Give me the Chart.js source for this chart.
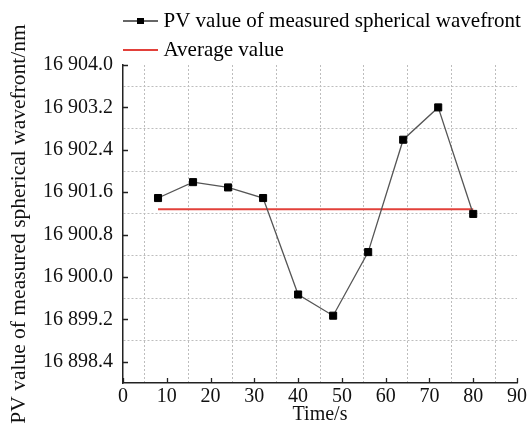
<!DOCTYPE html>
<html>
<head>
<meta charset="utf-8">
<script src="https://cdn.jsdelivr.net/npm/chart.js@4.4.0/dist/chart.umd.min.js"></script>
<style>
  html, body { margin: 0; padding: 0; background: #fff; }
</style>
</head>
<body>
<canvas id="pvChart" width="529" height="434"></canvas>
<script>
var timeS = [8, 16, 24, 32, 40, 48, 56, 64, 72, 80];
var pvValues = [16901.49, 16901.79, 16901.69, 16901.49, 16899.67, 16899.27, 16900.47, 16902.59, 16903.20, 16901.19];
var averageValue = 16901.28;
var averageSpan = [8, 80];

var yTickValues = [16898.4, 16899.2, 16900.0, 16900.8, 16901.6, 16902.4, 16903.2, 16904.0];
var yGridValues = [16898.8, 16899.6, 16900.4, 16901.2, 16902.0, 16902.8, 16903.6];
var xTickValues = [0, 10, 20, 30, 40, 50, 60, 70, 80, 90];
var xGridValues = [5, 15, 25, 35, 45, 55, 65, 75, 85];

var serif = "'Liberation Serif', 'Times New Roman', serif";
var gridGray = "#bdbdbd";
var redLine = "#e2403a";

function legendIcon(color, width, marker) {
  var c = document.createElement("canvas");
  c.width = 35;
  c.height = 12;
  var g = c.getContext("2d");
  g.strokeStyle = color;
  g.lineWidth = width;
  g.beginPath();
  g.moveTo(0, 6);
  g.lineTo(35, 6);
  g.stroke();
  if (marker) {
    g.fillStyle = "#000";
    g.fillRect(14, 3, 7, 6);
  }
  return c;
}

function buildTicks(major, minor) {
  return function (scale) {
    scale.ticks = major.concat(minor).sort(function (a, b) { return a - b; }).map(function (v) {
      return { value: v };
    });
  };
}

function gridColor(minor) {
  return function (c) {
    return c.tick && minor.indexOf(c.tick.value) >= 0 ? gridGray : "rgba(0,0,0,0)";
  };
}

// inward tick marks + legend placement
var axisExtras = {
  id: "axisExtras",
  afterLayout: function (chart) {
    var lg = chart.legend;
    lg.left = chart.chartArea.left - 3;
    lg.right = chart.width;
    lg.width = lg.right - lg.left;
    lg.top = 2.5;
  },
  afterDraw: function (chart) {
    var c = chart.ctx, area = chart.chartArea;
    var xs = chart.scales.x, ys = chart.scales.y;
    c.save();
    c.strokeStyle = "#222";
    c.lineWidth = 1.3;
    c.beginPath();
    yTickValues.forEach(function (v) {
      var py = Math.round(ys.getPixelForValue(v)) + 0.5;
      c.moveTo(area.left, py);
      c.lineTo(area.left + 5, py);
    });
    xTickValues.forEach(function (v) {
      var px = Math.round(xs.getPixelForValue(v)) + 0.5;
      c.moveTo(px, area.bottom);
      c.lineTo(px, area.bottom - 5);
    });
    c.stroke();
    c.restore();
  },
};

var ctx = document.getElementById("pvChart").getContext("2d");
var myChart = new Chart(ctx, {
  type: "line",
  data: {
    datasets: [
      {
        label: "PV value of measured spherical wavefront",
        data: timeS.map(function (t, i) { return { x: t, y: pvValues[i] }; }),
        borderColor: "#555",
        borderWidth: 1.3,
        pointStyle: "rect",
        pointRadius: 5,
        pointBackgroundColor: "#000",
        pointBorderColor: "#000",
        pointBorderWidth: 1,
        tension: 0,
        order: 1,
      },
      {
        label: "Average value",
        data: averageSpan.map(function (t) { return { x: t, y: averageValue }; }),
        borderColor: redLine,
        borderWidth: 2,
        pointRadius: 0,
        order: 2,
      },
    ],
  },
  options: {
    responsive: false,
    animation: false,
    layout: {
      padding: { top: -3, right: 12, bottom: 0, left: 0 },
    },
    plugins: {
      tooltip: { enabled: false },
      legend: {
        display: true,
        position: "top",
        align: "start",
        labels: {
          usePointStyle: true,
          pointStyleWidth: 25,
          padding: 8,
          color: "#111",
          font: { family: serif, size: 21 },
          generateLabels: function () {
            return [
              { text: "PV value of measured spherical wavefront", pointStyle: legendIcon("#333", 1.3, true), lineWidth: 0, datasetIndex: 0 },
              { text: "Average value", pointStyle: legendIcon(redLine, 2, false), lineWidth: 0, datasetIndex: 1 },
            ];
          },
        },
      },
    },
    scales: {
      x: {
        type: "linear",
        min: 0,
        max: 90,
        afterBuildTicks: buildTicks(xTickValues, xGridValues),
        afterFit: function (scale) { scale.height = 51; },
        ticks: {
          autoSkip: false,
          maxRotation: 0,
          padding: 2,
          color: "#111",
          font: { family: serif, size: 20 },
          callback: function (v) {
            return xTickValues.indexOf(v) >= 0 ? String(v) : "";
          },
        },
        grid: { color: gridColor(xGridValues), drawTicks: false, lineWidth: 1 },
        border: { display: true, color: "#222", width: 1.5, dash: [2, 2] },
        title: {
          display: true,
          text: "Time/s",
          color: "#111",
          font: { family: serif, size: 20 },
          padding: { top: 0, bottom: 7 },
        },
      },
      y: {
        type: "linear",
        min: 16898.0,
        max: 16904.0,
        afterBuildTicks: buildTicks(yTickValues, yGridValues),
        afterFit: function (scale) { scale.width = 123; },
        ticks: {
          autoSkip: false,
          padding: 10,
          color: "#111",
          font: { family: serif, size: 20 },
          callback: function (v) {
            if (yTickValues.indexOf(v) < 0) return "";
            var s = v.toFixed(1);
            return s.slice(0, 2) + " " + s.slice(2);
          },
        },
        grid: { color: gridColor(yGridValues), drawTicks: false, lineWidth: 1 },
        border: { display: true, color: "#222", width: 1.5, dash: [2, 2] },
        title: {
          display: true,
          text: "PV value of measured spherical wavefront/nm",
          color: "#111",
          font: { family: serif, size: 21.5 },
          padding: { top: 6, bottom: 0 },
        },
      },
    },
  },
  plugins: [axisExtras],
});
</script>
</body>
</html>
